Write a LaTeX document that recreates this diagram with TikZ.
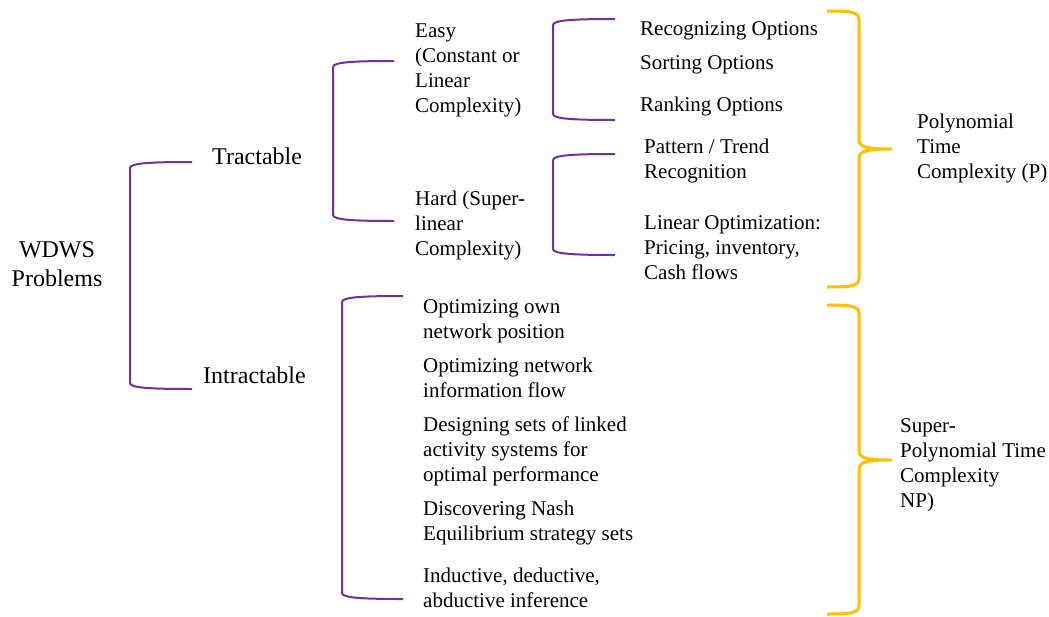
\documentclass[tikz,border=0pt]{standalone}
\usepackage{fontspec}
\setmainfont{Liberation Serif}
\definecolor{bracketpurple}{HTML}{7030A0}
\definecolor{braceyellow}{HTML}{FFC000}
% multi-line labels whose baseline is that of the first line
\newcommand\stackl[1]{\begin{tabular}[t]{@{}l@{}}#1\end{tabular}}
\newcommand\stackc[1]{\begin{tabular}[t]{@{}c@{}}#1\end{tabular}}
% square bracket: style, spine x, end x, top y, bottom y
\newcommand\sqbracket[5]{%
  \draw[#1] (#3,#4) .. controls (#2+22,#4) and (#2,#4+1) .. (#2,#4+6)
    -- (#2,#5-6) .. controls (#2,#5-1) and (#2+22,#5) .. (#3,#5);}
% curly brace opening left: style, spine x, end x, tip x, top y, tip y, bottom y
\newcommand\curlybrace[7]{%
  \draw[#1] (#3,#5) .. controls (#3+25,#5) and (#2,#5+1) .. (#2,#5+9)
    -- (#2,#6-9) .. controls (#2,#6-2) and (#2+8,#6) .. (#4,#6)
    .. controls (#2+8,#6) and (#2,#6+2) .. (#2,#6+9)
    -- (#2,#7-9) .. controls (#2,#7-1) and (#3+25,#7) .. (#3,#7);}
\begin{document}
\begin{tikzpicture}[x=1pt,y=-1pt,
  lvlone/.style={anchor=base west, inner sep=0pt, font=\rmfamily\fontsize{24}{29}\selectfont},
  lvltwo/.style={anchor=base west, inner sep=0pt, font=\rmfamily\fontsize{21}{25}\selectfont},
  bracket/.style={bracketpurple, line width=2pt},
  brace/.style={braceyellow, line width=3pt, line join=round},
]
\useasboundingbox (0,0) rectangle (1049,616);

% root and first level
\node[lvlone, anchor=base] (wdws) at (57,257) {\stackc{WDWS\\Problems}};
\node[lvlone] (tract) at (212,164) {Tractable};
\node[lvlone] (intract) at (203,383) {Intractable};

% tractable branch
\node[lvltwo] (easy) at (415,37) {\stackl{Easy\\(Constant or\\Linear\\Complexity)}};
\node[lvltwo] (hard) at (415,205) {\stackl{Hard (Super-\\linear\\Complexity)}};
\node[lvltwo] (recog) at (640,35) {Recognizing Options};
\node[lvltwo] (sort) at (640,69) {Sorting Options};
\node[lvltwo] (rank) at (640,111) {Ranking Options};
\node[lvltwo] (pattern) at (644,153) {\stackl{Pattern / Trend\\Recognition}};
\node[lvltwo] (linopt) at (644,229) {\stackl{Linear Optimization:\\Pricing, inventory,\\Cash flows}};

% intractable branch
\node[lvltwo] (netpos) at (423,313) {\stackl{Optimizing own\\network position}};
\node[lvltwo] (netflow) at (423,372) {\stackl{Optimizing network\\information flow}};
\node[lvltwo] (actsys) at (423,431) {\stackl{Designing sets of linked\\activity systems for\\optimal performance}};
\node[lvltwo] (nash) at (423,515) {\stackl{Discovering Nash\\Equilibrium strategy sets}};
\node[lvltwo] (infer) at (423,582) {\stackl{Inductive, deductive,\\abductive inference}};

% complexity classes
\node[lvltwo] (poly) at (917,128) {\stackl{Polynomial\\Time\\Complexity (P)}};
\node[lvltwo] (superpoly) at (900,432) {\stackl{Super-\\Polynomial Time\\Complexity\\NP)}};

% purple brackets
\sqbracket{bracket}{130}{192}{162}{389}
\sqbracket{bracket}{333}{394}{61}{221}
\sqbracket{bracket}{553}{615}{19}{120}
\sqbracket{bracket}{553}{615}{154}{255}
\sqbracket{bracket}{342}{403}{296}{599}

% yellow braces
\curlybrace{brace}{859}{827}{891}{11}{149}{287}
\curlybrace{brace}{859}{827}{891}{305}{460}{614}
\end{tikzpicture}
\end{document}
